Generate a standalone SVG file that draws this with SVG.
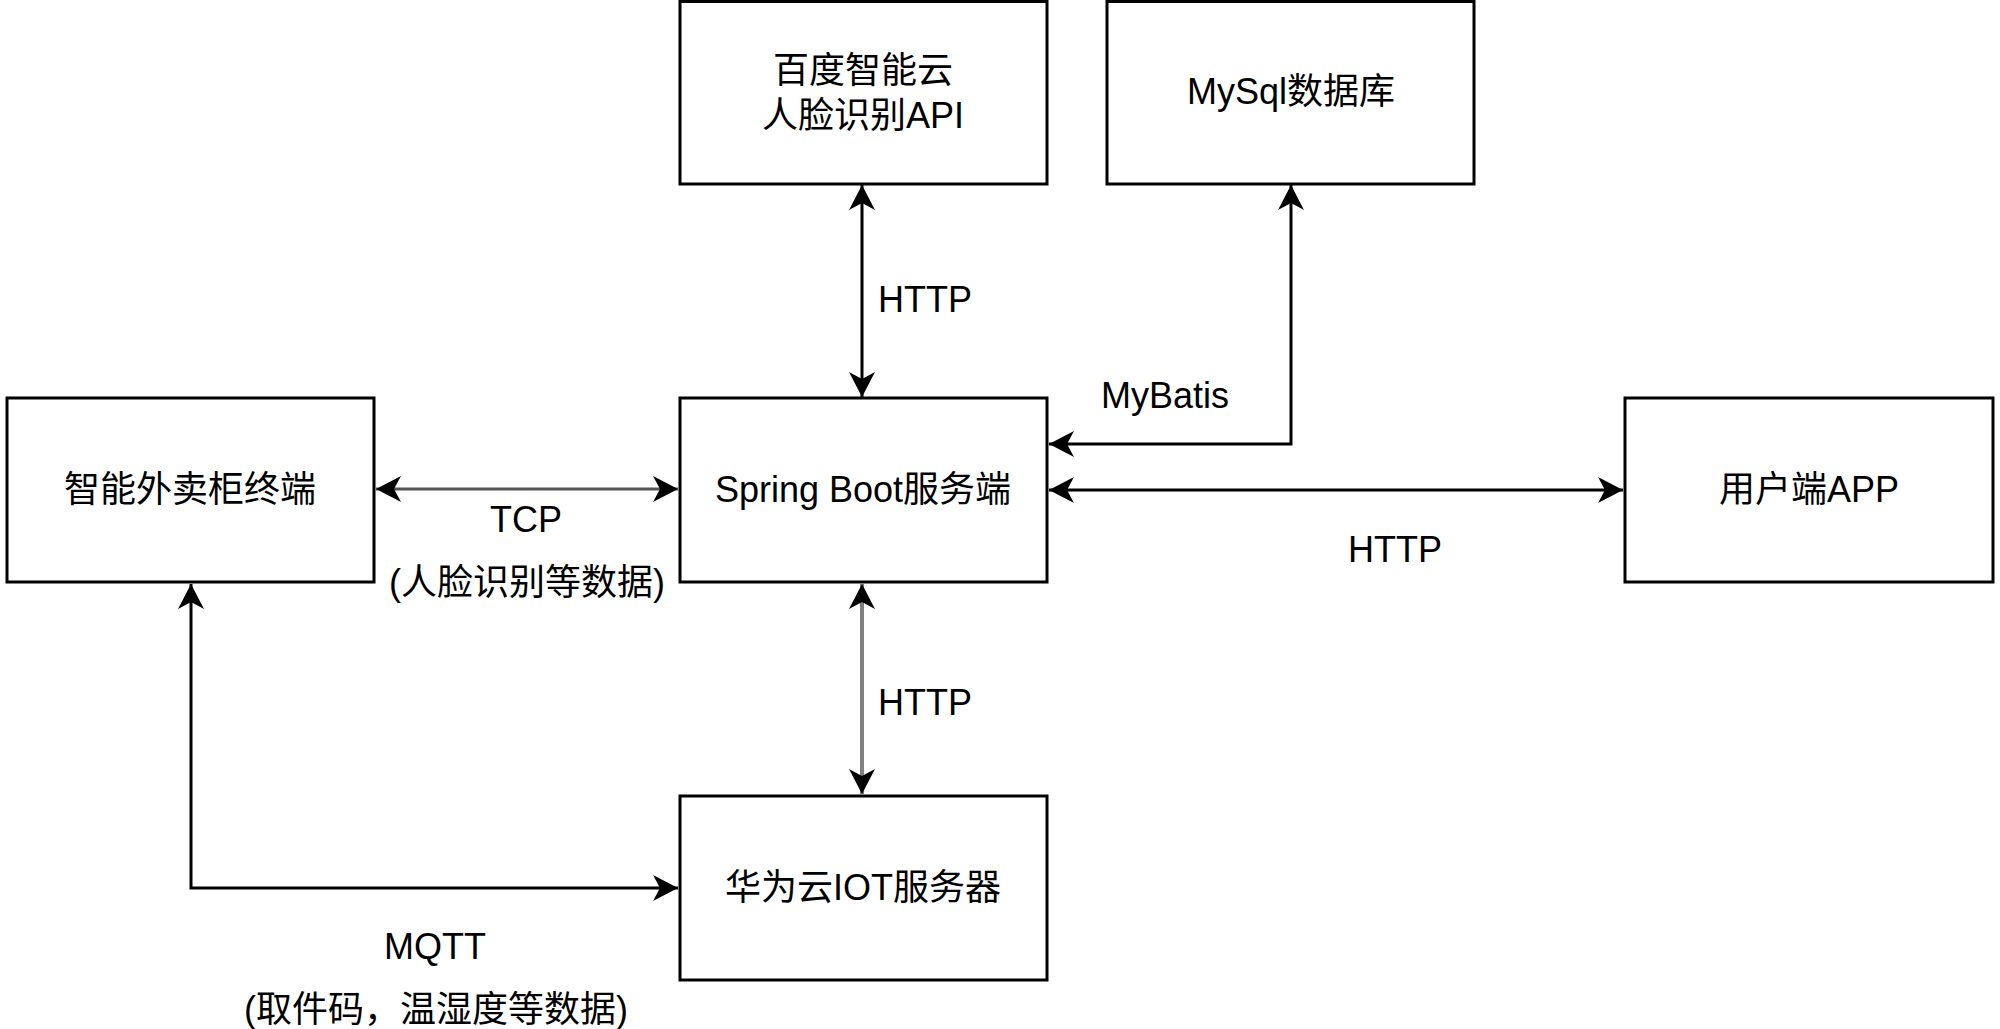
<svg xmlns="http://www.w3.org/2000/svg" width="2000" height="1029" viewBox="0 0 2000 1029">
<style>
.box{fill:#ffffff;stroke:#000000;stroke-width:3}
.t{font-family:"Liberation Sans","Noto Sans CJK SC",sans-serif;font-size:36px;fill:#000000;text-anchor:middle}
.c{fill:none;stroke:#000000;stroke-width:3}
</style>
<defs>
<marker id="arr" viewBox="0 0 26 28" markerUnits="userSpaceOnUse" markerWidth="26" markerHeight="28" refX="25" refY="14" orient="auto-start-reverse">
<path d="M25,14 L0,1 L7,14 L0,27 Z" fill="#000000"/>
</marker>
</defs>
<rect width="2000" height="1029" fill="#ffffff"/>
<g id="connectors">
<line class="c" x1="862" y1="185" x2="862" y2="397" marker-start="url(#arr)" marker-end="url(#arr)"/>
<polyline class="c" points="1049,444 1291,444 1291,185" marker-start="url(#arr)" marker-end="url(#arr)"/>
<line class="c" x1="376" y1="489" x2="678" y2="489" style="stroke:#555555" marker-start="url(#arr)" marker-end="url(#arr)"/>
<line class="c" x1="1049" y1="490" x2="1623" y2="490" marker-start="url(#arr)" marker-end="url(#arr)"/>
<line class="c" x1="862" y1="584" x2="862" y2="794" style="stroke:#808080;stroke-width:4" marker-start="url(#arr)" marker-end="url(#arr)"/>
<polyline class="c" points="191,584 191,888 678,888" marker-start="url(#arr)" marker-end="url(#arr)"/>
<text class="t" x="925" y="312">HTTP</text>
<text class="t" x="1165" y="408">MyBatis</text>
<text class="t" x="526" y="532">TCP</text>
<text class="t" x="527" y="595">(人脸识别等数据)</text>
<text class="t" x="1395" y="562">HTTP</text>
<text class="t" x="925" y="715">HTTP</text>
<text class="t" x="435" y="959">MQTT</text>
<text class="t" x="436" y="1022">(取件码，温湿度等数据)</text>
</g>
<g id="baidu">
<rect class="box" x="680" y="1.5" width="367" height="182.5"/>
<text class="t" x="863" y="83">百度智能云</text>
<text class="t" x="863" y="128">人脸识别API</text>
</g>
<g id="mysql">
<rect class="box" x="1107" y="1.5" width="367" height="182.5"/>
<text class="t" x="1291" y="104">MySql数据库</text>
</g>
<g id="terminal">
<rect class="box" x="7" y="398" width="367" height="184"/>
<text class="t" x="190" y="502">智能外卖柜终端</text>
</g>
<g id="springboot">
<rect class="box" x="680" y="398" width="367" height="184"/>
<text class="t" x="863" y="502">Spring Boot服务端</text>
</g>
<g id="app">
<rect class="box" x="1625" y="398" width="368" height="184"/>
<text class="t" x="1809" y="502">用户端APP</text>
</g>
<g id="iot">
<rect class="box" x="680" y="796" width="367" height="184"/>
<text class="t" x="863" y="900">华为云IOT服务器</text>
</g>
</svg>
